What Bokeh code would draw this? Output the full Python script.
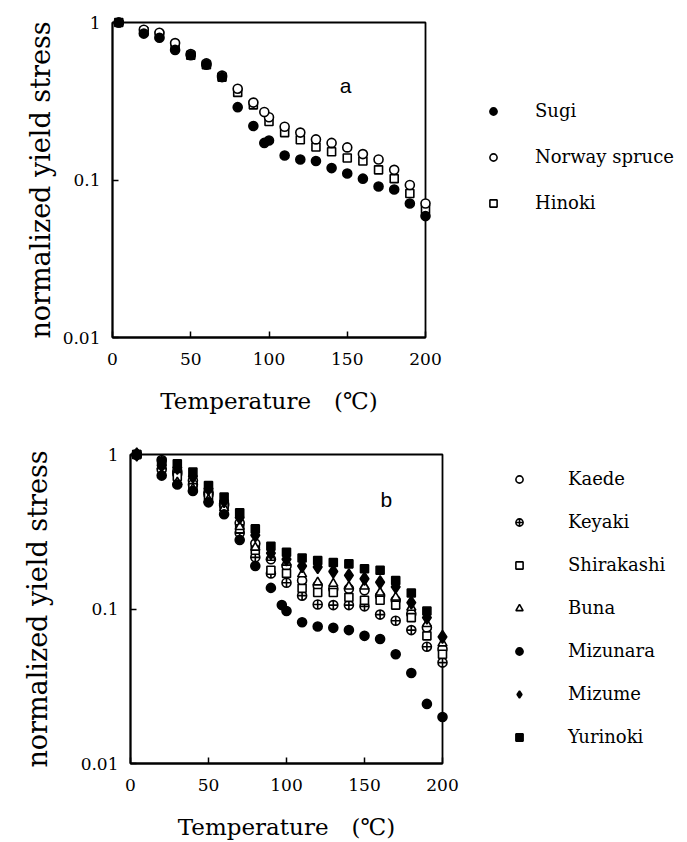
from bokeh.plotting import figure
from bokeh.models import (Range1d, FixedTicker, CustomJSTickFormatter, Legend,
                          LegendItem, Label)
from bokeh.layouts import column, row
from bokeh.embed import file_html
from bokeh.resources import INLINE

# ---------------- data: panel a (softwoods) ----------------
temps_a = [4, 20, 30, 40, 50, 60, 70, 80, 90, 100, 110, 120, 130, 140, 150, 160, 170, 180, 190, 200]
sugi = [1.0, 0.85, 0.80, 0.67, 0.62, 0.54, 0.45, 0.29, 0.22, 0.178, 0.143, 0.135, 0.132, 0.119, 0.110, 0.102, 0.091, 0.087, 0.071, 0.059]
norway = [1.0, 0.90, 0.86, 0.74, 0.63, 0.55, 0.46, 0.38, 0.31, 0.25, 0.218, 0.20, 0.181, 0.172, 0.161, 0.146, 0.135, 0.116, 0.093, 0.071]
hinoki = [1.0, 0.88, 0.83, 0.71, 0.62, 0.54, 0.45, 0.36, 0.30, 0.235, 0.20, 0.18, 0.162, 0.151, 0.138, 0.132, 0.116, 0.102, 0.082, 0.065]
extra_t_a = [97]
sugi_extra = [0.172]
norway_extra = [0.27]

# ---------------- data: panel b (hardwoods) ----------------
temps_b = [4, 20, 30, 40, 50, 60, 70, 80, 90, 100, 110, 120, 130, 140, 150, 160, 170, 180, 190, 200]
kaede = [1.0, 0.80, 0.75, 0.68, 0.57, 0.47, 0.36, 0.265, 0.21, 0.19, 0.153, 0.142, 0.135, 0.135, 0.132, 0.122, 0.114, 0.093, 0.076, 0.055]
keyaki = [1.0, 0.92, 0.78, 0.64, 0.55, 0.48, 0.31, 0.216, 0.17, 0.148, 0.122, 0.107, 0.106, 0.106, 0.104, 0.092, 0.084, 0.073, 0.057, 0.045]
shirakashi = [1.0, 0.88, 0.72, 0.61, 0.54, 0.47, 0.33, 0.24, 0.178, 0.17, 0.136, 0.128, 0.128, 0.119, 0.114, 0.114, 0.106, 0.088, 0.067, 0.051]
buna = [1.0, 0.84, 0.66, 0.60, 0.51, 0.45, 0.34, 0.25, 0.215, 0.20, 0.168, 0.149, 0.146, 0.14, 0.14, 0.128, 0.119, 0.102, 0.08, 0.06]
mizunara = [1.0, 0.73, 0.64, 0.58, 0.49, 0.41, 0.28, 0.19, 0.137, 0.097, 0.082, 0.077, 0.0755, 0.073, 0.067, 0.064, 0.051, 0.0385, 0.0243, 0.020]
mizume = [1.0, 0.85, 0.82, 0.72, 0.60, 0.50, 0.39, 0.30, 0.23, 0.21, 0.19, 0.187, 0.175, 0.165, 0.157, 0.149, 0.139, 0.11, 0.088, 0.066]
temps_yuri = [4, 20, 30, 40, 50, 60, 70, 80, 90, 100, 110, 120, 130, 140, 150, 160, 170, 180, 190]
yurinoki = [1.0, 0.90, 0.87, 0.77, 0.63, 0.53, 0.42, 0.33, 0.255, 0.233, 0.214, 0.206, 0.2, 0.196, 0.182, 0.178, 0.153, 0.127, 0.097]
extra_t_b = [97]
mizunara_extra = [0.106]

x_ticks = [0, 50, 100, 150, 200]
y_ticks = [0.01, 0.1, 1]
x_label = "Temperature\u3000(\u2103)"
y_label = "normalized yield stress"

SERIF = "DejaVu Serif"


def make_fig(left, right, top, bottom, fw, fh, ylab_standoff):
    p = figure(frame_width=fw, frame_height=fh,
               x_range=Range1d(0, 200), y_range=Range1d(0.01, 1),
               y_axis_type="log", output_backend="svg", toolbar_location=None,
               min_border_left=left, min_border_right=right,
               min_border_top=top, min_border_bottom=bottom)
    p.grid.visible = False
    p.outline_line_color = "black"
    p.outline_line_width = 1.8
    p.background_fill_color = "white"
    p.border_fill_color = "white"
    for ax in (p.xaxis[0], p.yaxis[0]):
        ax.axis_line_color = "black"
        ax.axis_line_width = 1.8
        ax.major_tick_in = 6
        ax.major_tick_out = 0
        ax.major_tick_line_width = 1.5
        ax.minor_tick_line_color = None
        ax.major_label_text_font = SERIF
        ax.major_label_text_font_size = "17px"
        ax.major_label_text_color = "black"
        ax.axis_label_text_font = SERIF
        ax.axis_label_text_font_style = "normal"
        ax.axis_label_text_color = "black"
    p.xaxis.ticker = FixedTicker(ticks=x_ticks)
    p.yaxis.ticker = FixedTicker(ticks=y_ticks)
    p.yaxis.formatter = CustomJSTickFormatter(code="return tick.toString()")
    p.xaxis.axis_label = x_label
    p.yaxis.axis_label = y_label
    p.xaxis.axis_label_text_font_size = "23px"
    p.yaxis.axis_label_text_font_size = "27px"
    p.xaxis.major_label_standoff = 15
    p.xaxis.axis_label_standoff = 20
    p.yaxis.major_label_standoff = 12
    p.yaxis.axis_label_standoff = ylab_standoff
    return p


def sc(p, x, y, marker, filled, size=9):
    return p.scatter(x, y, marker=marker, size=size, line_color="black",
                     line_width=1.6,
                     fill_color="black" if filled else "white",
                     level="overlay")


def make_legend(items, loc, standoff, spacing):
    return Legend(items=items, location=loc, orientation="vertical",
                  label_text_font=SERIF, label_text_font_size="18px",
                  label_text_color="black",
                  glyph_width=20, glyph_height=18, label_height=20,
                  label_standoff=standoff, spacing=spacing, padding=0, margin=0,
                  border_line_alpha=0, background_fill_alpha=0)


# ---------------- panel a ----------------
pa = make_fig(112, 260, 22, 90, 313, 315, 4)
r_hin = sc(pa, temps_a, hinoki, "square", False, 8)
r_nor = sc(pa, temps_a, norway, "circle", False, 9)
sc(pa, extra_t_a, norway_extra, "circle", False, 9)
r_sug = sc(pa, temps_a, sugi, "circle", True, 9)
sc(pa, extra_t_a, sugi_extra, "circle", True, 9)
pa.add_layout(Label(x=149, y=0.40, text="a", text_font="Liberation Sans",
                    text_font_size="21px", text_align="center",
                    text_baseline="middle", text_color="black"))
leg_a = make_legend([LegendItem(label="Sugi", renderers=[r_sug]),
                     LegendItem(label="Norway spruce", renderers=[r_nor]),
                     LegendItem(label="Hinoki", renderers=[r_hin])],
                    (58, 124), 32, 25)
pa.add_layout(leg_a, "right")

# ---------------- panel b ----------------
pb = make_fig(130, 243, 27, 79, 312, 309, 25)
r_kae = sc(pb, temps_b, kaede, "circle", False, 9)
r_key = sc(pb, temps_b, keyaki, "circle_cross", False, 9)
r_shi = sc(pb, temps_b, shirakashi, "square", False, 8)
r_bun = sc(pb, temps_b, buna, "triangle", False, 9)
r_miz = sc(pb, temps_b, mizunara, "circle", True, 9)
sc(pb, extra_t_b, mizunara_extra, "circle", True, 9)
r_mzm = sc(pb, temps_b, mizume, "diamond", True, 13)
r_yur = sc(pb, temps_yuri, yurinoki, "square", True, 8)
pb.add_layout(Label(x=164, y=0.51, text="b", text_font="Liberation Sans",
                    text_font_size="21px", text_align="center",
                    text_baseline="middle", text_color="black"))
leg_b = make_legend([LegendItem(label="Kaede", renderers=[r_kae]),
                     LegendItem(label="Keyaki", renderers=[r_key]),
                     LegendItem(label="Shirakashi", renderers=[r_shi]),
                     LegendItem(label="Buna", renderers=[r_bun]),
                     LegendItem(label="Mizunara", renderers=[r_miz]),
                     LegendItem(label="Mizume", renderers=[r_mzm]),
                     LegendItem(label="Yurinoki", renderers=[r_yur])],
                    (67, 16), 39, 22)
pb.add_layout(leg_b, "right")

layout = column(row(pa), row(pb), spacing=0)
open("out.html", "w").write(file_html(layout, INLINE))
